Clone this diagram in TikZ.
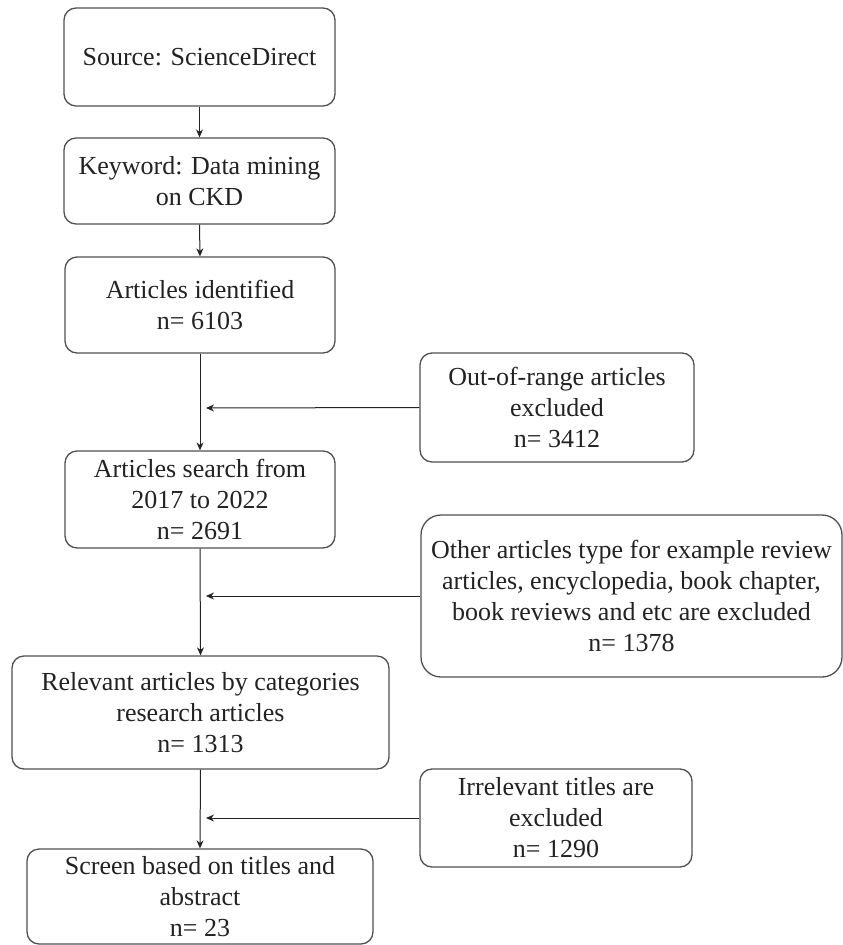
\documentclass[tikz,border=0pt]{standalone}
\usepackage{fontspec}
\setmainfont{Liberation Serif}
\usetikzlibrary{arrows.meta}
\definecolor{edge}{HTML}{505050}
\definecolor{ink}{HTML}{222222}
\tikzset{
  boxnode/.style={draw=edge, line width=1.3pt, rounded corners=12pt, inner sep=0pt,
    align=center, text=ink, font=\fontsize{26}{31}\selectfont},
  flowline/.style={draw=ink, line width=1pt, -{Stealth[length=8pt,width=7pt]}},
}
\newcommand{\mybox}[6]{% name, x1, y1, x2, y2, text
  \node[boxnode, minimum width=#4pt-#2pt, minimum height=#5pt-#3pt] (#1) at ({(#2+#4)/2},{(#3+#5)/2}) {#6};}
\begin{document}
\begin{tikzpicture}[x=1pt,y=-1pt]
\useasboundingbox (0,0) rectangle (843,945);
\mybox{src}{64}{8}{335}{106}{Source: ScienceDirect}
\mybox{kw}{64}{138}{335}{224}{Keyword: Data mining\\on CKD}
\mybox{ident}{65}{257}{335}{353}{Articles identified\\n= 6103}
\mybox{oor}{420}{353}{694}{462}{Out-of-range articles\\excluded\\n= 3412}
\mybox{search}{65}{451}{335}{548}{Articles search from\\2017 to 2022\\n= 2691}
\node[boxnode, rounded corners=20pt, minimum width=421pt, minimum height=162pt] (other) at (631.5,596) {Other articles type for example review\\articles, encyclopedia, book chapter,\\book reviews and etc are excluded\\n= 1378};
\mybox{rel}{12}{656}{389}{769}{Relevant articles by categories\\research articles\\n= 1313}
\mybox{irr}{420}{769}{692}{867}{Irrelevant titles are\\excluded\\n= 1290}
\mybox{scr}{27}{849}{373}{944}{Screen based on titles and\\abstract\\n= 23}
\coordinate (t1) at (206,408);
\coordinate (t2) at (206,596);
\coordinate (t3) at (206,818);
\draw[flowline] (src.south) -- (kw.north);
\draw[flowline] (kw.south) -- (ident.north);
\draw[flowline] (ident.south) -- (search.north);
\draw[flowline] (search.south) -- (rel.north);
\draw[flowline] (rel.south) -- (scr.north);
\draw[flowline] (oor.west) -- (t1);
\draw[flowline] (other.west) -- (t2);
\draw[flowline] (irr.west) -- (t3);
\end{tikzpicture}
\end{document}
